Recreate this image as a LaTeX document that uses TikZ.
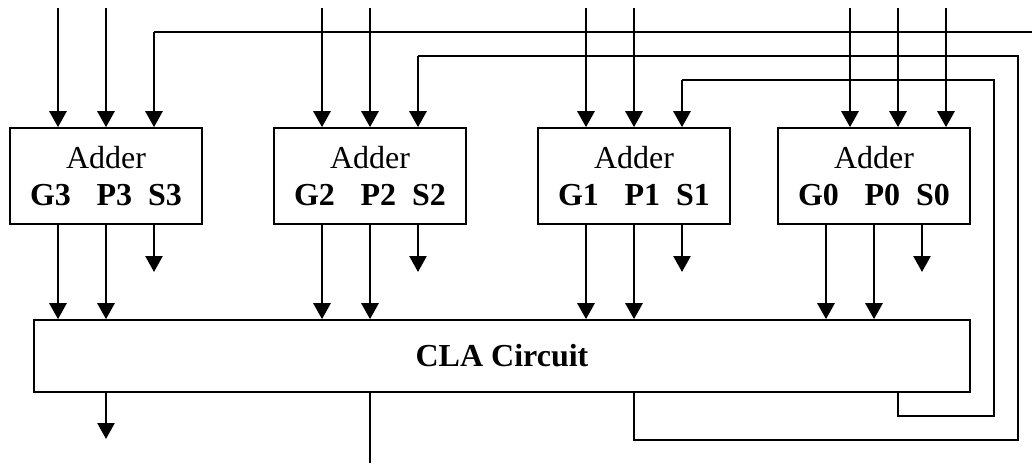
\documentclass[tikz,border=0pt]{standalone}
\usepackage{fontspec}
\setmainfont{Liberation Serif}
\usetikzlibrary{arrows.meta,calc}
\begin{document}
\begin{tikzpicture}[x=1pt,y=-1pt,
  adder/.style={draw,line width=1.6pt,minimum width=192pt,minimum height=96pt,inner sep=0pt,align=center,font=\fontsize{32}{37}\selectfont},
  cla/.style={draw,line width=1.6pt,minimum width=936pt,minimum height=72pt,inner sep=0pt,font=\fontsize{32}{37}\selectfont\bfseries},
  arr/.style={line width=2.6pt,-{Triangle[length=16pt,width=17pt]}},
  wire/.style={line width=1.8pt}]
\path[use as bounding box] (0,0) rectangle (1032,463);
% adders
\node[adder] (a3) at (106,176) {Adder\\\textbf{G3\hspace{0.8em}P3\hspace{0.5em}S3}};
\node[adder] (a2) at (370,176) {Adder\\\textbf{G2\hspace{0.8em}P2\hspace{0.5em}S2}};
\node[adder] (a1) at (634,176) {Adder\\\textbf{G1\hspace{0.8em}P1\hspace{0.5em}S1}};
\node[adder] (a0) at (874,176) {Adder\\\textbf{G0\hspace{0.8em}P0\hspace{0.5em}S0}};
\node[cla] (cla) at (502,356) {CLA Circuit};
% top inputs
\foreach \x/\n in {58/a3,106/a3,322/a2,370/a2,586/a1,634/a1,850/a0,898/a0,946/a0}{
  \coordinate (in\x) at (\x,8);
  \draw[arr] (in\x) -- (in\x |- \n.north);
}
% G,P outputs to CLA
\foreach \x/\n in {58/a3,106/a3,322/a2,370/a2,586/a1,634/a1,826/a0,874/a0}{
  \coordinate (gp\x) at (\x,224);
  \draw[arr] (gp\x |- \n.south) -- (gp\x |- cla.north);
}
% S outputs
\foreach \x/\n in {154/a3,418/a2,682/a1,922/a0}{
  \coordinate (so\x) at (\x,272);
  \draw[arr] (so\x |- \n.south) -- (so\x);
}
% carry into adder 3 from right edge
\coordinate (c3e) at (1032,32);
\coordinate (c3c) at (154,32);
\draw[wire] (c3e) -- (c3c);
\draw[arr] (c3c) -- (c3c |- a3.north);
% carry into adder 2 from CLA
\coordinate (c2o) at (634,440);
\coordinate (c2r) at (1018,440);
\coordinate (c2t) at (1018,56);
\coordinate (c2c) at (418,56);
\draw[wire] (c2o |- cla.south) -- (c2o) -- (c2r) -- (c2t) -- (c2c);
\draw[arr] (c2c) -- (c2c |- a2.north);
% carry into adder 1 from CLA
\coordinate (c1o) at (898,416);
\coordinate (c1r) at (994,416);
\coordinate (c1t) at (994,80);
\coordinate (c1c) at (682,80);
\draw[wire] (c1o |- cla.south) -- (c1o) -- (c1r) -- (c1t) -- (c1c);
\draw[arr] (c1c) -- (c1c |- a1.north);
% CLA outputs
\coordinate (o1) at (106,439);
\draw[arr] (o1 |- cla.south) -- (o1);
\coordinate (o2) at (370,463);
\draw[wire] (o2 |- cla.south) -- (o2);
\end{tikzpicture}
\end{document}
